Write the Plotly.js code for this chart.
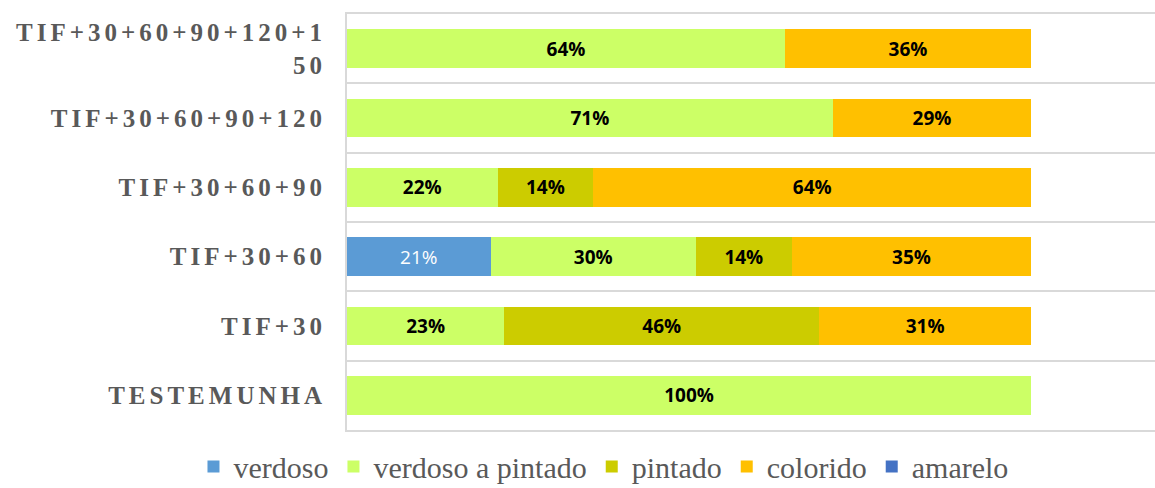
<!DOCTYPE html>
<html>
<head>
<meta charset="utf-8">
<script src="https://cdn.plot.ly/plotly-3.0.1.min.js"></script>
<style>
  html, body { margin: 0; padding: 0; background: #fff; }
  #chart { width: 1155px; height: 488px; }
  .ytick text { letter-spacing: 4px; }
</style>
</head>
<body>
<div id="chart"></div>
<script>
// Categories (bottom to top)
const categories = [
  "TESTEMUNHA",
  "TIF+30",
  "TIF+30+60",
  "TIF+30+60+90",
  "TIF+30+60+90+120",
  "TIF+30+60+90+120+1<br>50"
];

// Series values (%)
const verdoso          = [0, 0, 21, 0, 0, 0];
const verdosoAPintado  = [100, 23, 30, 22, 71, 64];
const pintado          = [0, 46, 14, 14, 0, 0];
const colorido         = [0, 31, 35, 64, 29, 36];
const amarelo          = [0, 0, 0, 0, 0, 0];

const seriesNames = ["verdoso", "verdoso a pintado", "pintado", "colorido", "amarelo"];
const seriesValues = [verdoso, verdosoAPintado, pintado, colorido, amarelo];
const seriesColors = ["#5B9BD5", "#CCFF66", "#CCCC00", "#FFC000", "#4472C4"];

const labelFonts = [
  {family: "Open Sans", size: 19, color: "#ffffff"},
  {family: "Open Sans", size: 19, color: "#000000", weight: "bold"},
  {family: "Open Sans", size: 19, color: "#000000", weight: "bold"},
  {family: "Open Sans", size: 19, color: "#000000", weight: "bold"},
  {family: "Open Sans", size: 19, color: "#000000", weight: "bold"}
];

const traces = seriesNames.map((name, i) => ({
  type: "bar",
  orientation: "h",
  name: name,
  y: categories,
  x: seriesValues[i],
  text: seriesValues[i].map(v => v > 0 ? v + "%" : ""),
  textposition: "inside",
  insidetextanchor: "middle",
  constraintext: "none",
  textfont: labelFonts[i],
  marker: {color: seriesColors[i], line: {width: 0}},
  hoverinfo: "skip"
}));

const layout = {
  width: 1155,
  height: 488,
  margin: {l: 347, r: 0, t: 14, b: 58, autoexpand: false},
  paper_bgcolor: "#ffffff",
  plot_bgcolor: "#ffffff",
  barmode: "stack",
  bargap: 0.44,
  showlegend: true,
  legend: {
    orientation: "h",
    traceorder: "normal",
    x: -0.19,
    xanchor: "left",
    y: -0.088,
    yanchor: "middle",
    font: {family: "Liberation Serif", size: 30, color: "#595959"},
    itemwidth: 30
  },
  xaxis: {
    range: [0, 118.1],
    showgrid: false,
    zeroline: false,
    showticklabels: false,
    showline: true,
    mirror: true,
    linecolor: "#d9d9d9",
    linewidth: 2,
    fixedrange: true
  },
  yaxis: {
    type: "category",
    tickson: "boundaries",
    showgrid: true,
    gridcolor: "#d9d9d9",
    gridwidth: 2,
    showline: true,
    linecolor: "#d9d9d9",
    linewidth: 2,
    ticks: "",
    ticklabelstandoff: 14,
    tickfont: {family: "Liberation Serif", size: 25, color: "#595959", weight: "bold"},
    fixedrange: true
  }
};

Plotly.newPlot("chart", traces, layout, {displayModeBar: false, staticPlot: true});
</script>
</body>
</html>
